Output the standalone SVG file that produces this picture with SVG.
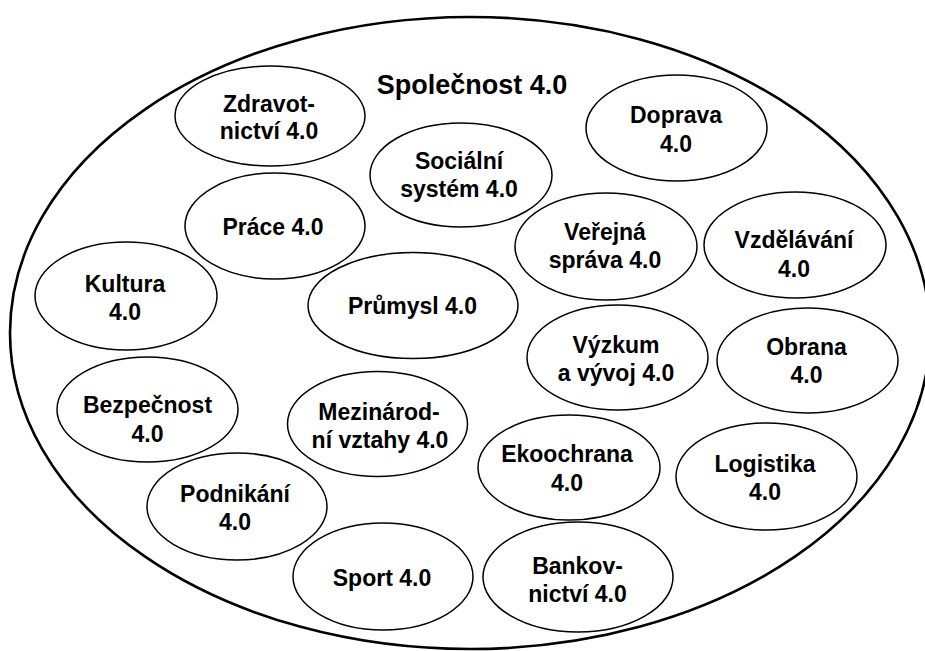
<svg xmlns="http://www.w3.org/2000/svg" width="925" height="651" viewBox="0 0 925 651">
<style>
.bg{fill:#fff}
.outer{fill:none;stroke:#000;stroke-width:2.6}
.n ellipse{fill:#fff;stroke:#000;stroke-width:1.5}
text{font-family:"Liberation Sans",Arial,sans-serif;font-weight:bold;font-size:23px;fill:#000;text-anchor:middle}
.title{font-size:27px}
</style>
<rect class="bg" x="0" y="0" width="925" height="651"/>
<g id="spolecnost">
<ellipse class="outer" cx="470" cy="333" rx="460" ry="316"/>
<text class="title" x="472" y="94">Společnost 4.0</text>
</g>
<g id="connectors"></g>
<g id="zdravotnictvi" class="n"><ellipse cx="270" cy="116" rx="95" ry="50"/><text x="269" y="112">Zdravot-<tspan x="269" dy="27">nictví 4.0</tspan></text></g>
<g id="socialni" class="n"><ellipse cx="461" cy="175" rx="91" ry="52"/><text x="459" y="169">Sociální<tspan x="459" dy="28">systém 4.0</tspan></text></g>
<g id="doprava" class="n"><ellipse cx="676.5" cy="128" rx="90.5" ry="53"/><text x="676" y="123">Doprava<tspan x="676" dy="29">4.0</tspan></text></g>
<g id="prace" class="n"><ellipse cx="275" cy="226" rx="90" ry="53"/><text x="273" y="235">Práce 4.0</text></g>
<g id="verejna" class="n"><ellipse cx="606" cy="246.5" rx="91" ry="53.5"/><text x="605" y="240">Veřejná<tspan x="605" dy="28">správa 4.0</tspan></text></g>
<g id="vzdelavani" class="n"><ellipse cx="795" cy="245" rx="91" ry="53"/><text x="794" y="248">Vzdělávání<tspan x="794" dy="29">4.0</tspan></text></g>
<g id="kultura" class="n"><ellipse cx="126" cy="296" rx="91" ry="54"/><text x="125" y="292">Kultura<tspan x="125" dy="28">4.0</tspan></text></g>
<g id="prumysl" class="n"><ellipse cx="413" cy="305.5" rx="105" ry="53"/><text x="412.5" y="314">Průmysl 4.0</text></g>
<g id="vyzkum" class="n"><ellipse cx="617.5" cy="357.5" rx="90.5" ry="52.5"/><text x="616" y="353">Výzkum<tspan x="616" dy="28">a vývoj 4.0</tspan></text></g>
<g id="obrana" class="n"><ellipse cx="807.5" cy="360.5" rx="90.5" ry="52.5"/><text x="806.5" y="355">Obrana<tspan x="806.5" dy="28">4.0</tspan></text></g>
<g id="bezpecnost" class="n"><ellipse cx="147.5" cy="409.5" rx="90.5" ry="52.5"/><text x="147.5" y="413">Bezpečnost<tspan x="147.5" dy="29">4.0</tspan></text></g>
<g id="mezinarodni" class="n"><ellipse cx="377.5" cy="424" rx="90" ry="52.5"/><text x="379" y="420">Mezinárod-<tspan x="380" dy="28">ní vztahy 4.0</tspan></text></g>
<g id="ekoochrana" class="n"><ellipse cx="569" cy="467.5" rx="91" ry="52.5"/><text x="567" y="462">Ekoochrana<tspan x="567" dy="29">4.0</tspan></text></g>
<g id="logistika" class="n"><ellipse cx="766.5" cy="476.5" rx="90.5" ry="53.5"/><text x="765" y="472">Logistika<tspan x="765" dy="28">4.0</tspan></text></g>
<g id="podnikani" class="n"><ellipse cx="237" cy="506.5" rx="90" ry="53.5"/><text x="235" y="502">Podnikání<tspan x="235" dy="28">4.0</tspan></text></g>
<g id="sport" class="n"><ellipse cx="383" cy="576.5" rx="90" ry="53.5"/><text x="382" y="586">Sport 4.0</text></g>
<g id="bankovnictvi" class="n"><ellipse cx="578" cy="577" rx="95" ry="55"/><text x="577.5" y="574">Bankov-<tspan x="577.5" dy="28">nictví 4.0</tspan></text></g>
</svg>
